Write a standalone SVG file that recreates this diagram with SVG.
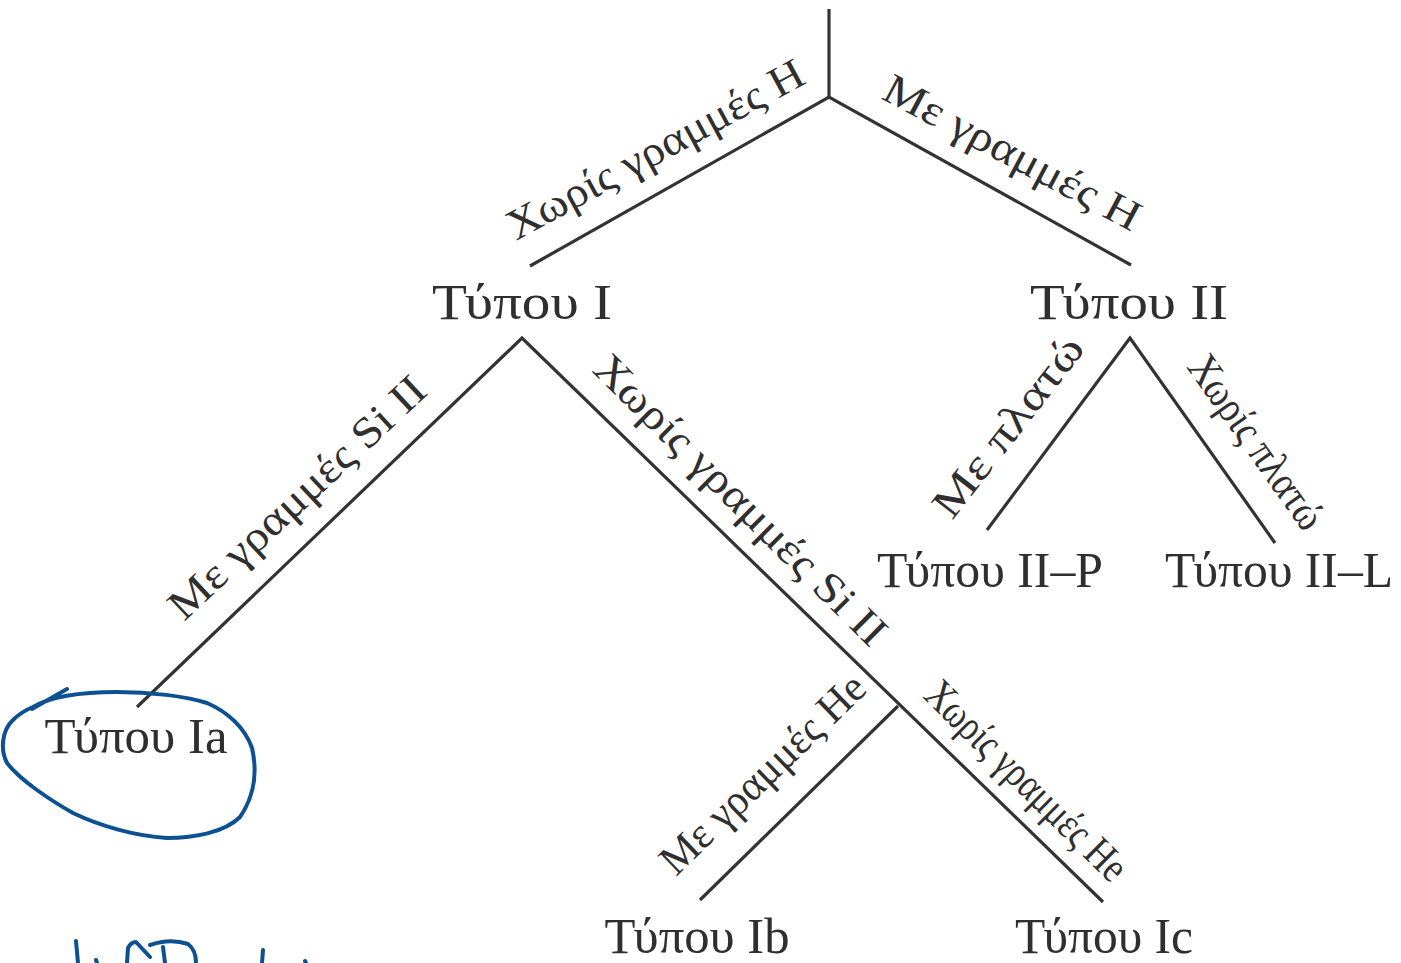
<svg xmlns="http://www.w3.org/2000/svg" width="1401" height="963" viewBox="0 0 1401 963">
<style>
.edge{stroke:#333;stroke-width:3.2;fill:none;stroke-linecap:butt}
.node{font-family:"Liberation Serif","Times New Roman",serif;font-size:50px;fill:#2f2f2f;text-anchor:middle}
.lbl{font-family:"Liberation Serif","Times New Roman",serif;font-size:43px;fill:#2f2f2f}
.ink{stroke:#0d5191;stroke-width:4;fill:none;stroke-linecap:round;stroke-linejoin:round}
</style>
<rect width="1401" height="963" fill="#fff"/>
<g id="connectors">
<line class="edge" x1="829" y1="9" x2="829" y2="97"/>
<polyline class="edge" points="530,266 829,97 1131,265"/>
<polyline class="edge" points="137,707 522,338 1103,902"/>
<line class="edge" x1="898" y1="706" x2="700" y2="900"/>
<polyline class="edge" points="987,530 1130,338 1275,543"/>
</g>
<g id="edge-labels">
<text class="lbl" transform="translate(516,241) rotate(-28.5)" textLength="332" lengthAdjust="spacingAndGlyphs">Χωρίς γραμμές H</text>
<text class="lbl" transform="translate(880,98) rotate(28)" textLength="285" lengthAdjust="spacingAndGlyphs">Με γραμμές H</text>
<text class="lbl" transform="translate(184,622) rotate(-43)" textLength="335" lengthAdjust="spacingAndGlyphs">Με γραμμές Si II</text>
<text class="lbl" transform="translate(591,371) rotate(44.8)" textLength="394" lengthAdjust="spacingAndGlyphs">Χωρίς γραμμές Si II</text>
<text class="lbl" transform="translate(952,521) rotate(-52)" textLength="218" lengthAdjust="spacingAndGlyphs">Με πλατώ</text>
<text class="lbl" transform="translate(1186,367) rotate(54.6)" textLength="204" lengthAdjust="spacingAndGlyphs">Χωρίς πλατώ</text>
<text class="lbl" transform="translate(676,877) rotate(-44)" textLength="268" lengthAdjust="spacingAndGlyphs">Με γραμμές He</text>
<text class="lbl" transform="translate(922,697) rotate(44.7)" textLength="266" lengthAdjust="spacingAndGlyphs">Χωρίς γραμμές He</text>
</g>
<g id="node-typeI"><text class="node" x="522" y="319" textLength="180" lengthAdjust="spacingAndGlyphs">Τύπου I</text></g>
<g id="node-typeII"><text class="node" x="1129" y="319" textLength="198" lengthAdjust="spacingAndGlyphs">Τύπου II</text></g>
<g id="node-typeIIP"><text class="node" x="990" y="587" textLength="226" lengthAdjust="spacingAndGlyphs">Τύπου II–P</text></g>
<g id="node-typeIIL"><text class="node" x="1279" y="587" textLength="228" lengthAdjust="spacingAndGlyphs">Τύπου II–L</text></g>
<g id="node-typeIa"><text class="node" x="136" y="753" textLength="183" lengthAdjust="spacingAndGlyphs">Τύπου Ia</text></g>
<g id="node-typeIb"><text class="node" x="697" y="953" textLength="185" lengthAdjust="spacingAndGlyphs">Τύπου Ib</text></g>
<g id="node-typeIc"><text class="node" x="1104" y="953" textLength="178" lengthAdjust="spacingAndGlyphs">Τύπου Ic</text></g>
<g id="annotation">
<path class="ink" d="M67,689 L32,709 M33,707 C50,697 80,692 117,692 C150,692 185,696 207,703 C228,712 245,728 252,748 C257,770 255,795 240,817 C225,832 195,838 167,838 C135,836 100,826 73,813 C50,800 20,780 7,763 C0,750 2,730 13,720 C20,713 28,709 33,707"/>
<path class="ink" d="M76,941 L78,963 M96,960 L97,963 M127,963 L128,948 Q131,942 136,942 L150,957 M150,945 Q170,938 188,944 Q196,950 196,963 M163,947 L165,963 M263,950 L262,963 M305,961 L306,963"/>
</g>
</svg>
